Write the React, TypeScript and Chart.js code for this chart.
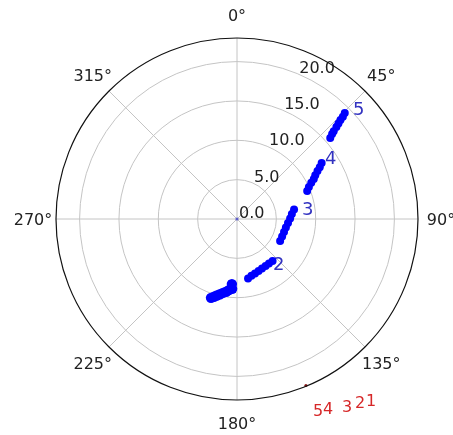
import React, { useEffect, useRef } from 'react';
import { Chart, registerables } from 'chart.js';

Chart.register(...registerables);

// angular resolution of the radar categories: 4 per degree (0.25°)
const STEPS_PER_DEG = 4;
const ANGLE_STEPS = 360 * STEPS_PER_DEG;

// axes
const angleTickDegrees = [0, 45, 90, 135, 180, 225, 270, 315];
const radialTickValues = [0, 5, 10, 15, 20];
const radialTickLabels = ['0.0', '5.0', '10.0', '15.0', '20.0'];
const radialMax = 23;
const radialLabelAngle = 22.5;

// blob near label "1" (theta in degrees, clockwise from north)
const blobTheta = [198.25, 196.5, 194.75, 192.75, 190.75, 188.5, 186.5, 184, 184.5];
const blobR = [10.55, 10.3, 10.05, 9.8, 9.55, 9.35, 9.1, 8.9, 8.3];

// spiral segments near labels 2..5
const spiralTheta = [
  169.5, 165.75, 161.75, 157.5, 153.25, 148.75, 144.25, 139.75,
  117, 111.25, 105.5, 99.75, 94.5, 89.5, 84.75, 80.5,
  68.25, 66, 64, 62.5, 60.75, 59.25, 58, 56.5,
  49, 48.25, 47.75, 47.25, 46.75, 46.25, 46, 45.5,
];
const spiralR = [
  7.7, 7.45, 7.3, 7.15, 7.05, 7.0, 6.95, 7.0,
  6.15, 6.15, 6.2, 6.3, 6.5, 6.75, 7.0, 7.35,
  9.6, 10.0, 10.5, 11.0, 11.4, 11.9, 12.4, 12.9,
  15.7, 16.2, 16.6, 17.2, 17.7, 18.2, 18.7, 19.2,
];

// tiny marks
const originTheta = [0];
const originR = [0];
const redMarkTheta = [157.5];
const redMarkR = [22.9];

// blue annotations (left / baseline anchor)
const noteText = ['1', '2', '3', '4', '5'];
const noteTheta = [188.45, 144.8, 86.5, 58.0, 48.1];
const noteR = [9.51, 7.93, 8.27, 13.19, 19.8];

// red annotations outside the axes
const redText = ['5', '4', '3', '2', '1'];
const redTheta = [158.9, 156.2, 151.45, 148.0, 145.4];
const redR = [26.83, 27.08, 27.92, 28.31, 28.87];

function toSeries(theta: number[], r: number[]) {
  const arr: (number | null)[] = new Array(ANGLE_STEPS).fill(null);
  theta.forEach((t, i) => {
    arr[Math.round(t * STEPS_PER_DEG) % ANGLE_STEPS] = r[i];
  });
  return arr;
}

const FONT = '"DejaVu Sans", sans-serif';

const overlay = {
  id: 'overlay',
  beforeDatasetsDraw(chart: any) {
    const s = chart.scales.r;
    const ctx = chart.ctx;
    ctx.save();
    ctx.fillStyle = '#222';
    ctx.font = `16px ${FONT}`;
    ctx.textAlign = 'left';
    ctx.textBaseline = 'alphabetic';
    radialTickValues.forEach((v, i) => {
      const p = s.getPointPositionForValue(radialLabelAngle * STEPS_PER_DEG, v);
      ctx.fillText(radialTickLabels[i], p.x + 2, p.y - 1);
    });
    ctx.textAlign = 'center';
    angleTickDegrees.forEach((d) => {
      const p = s.getPointPosition(d * STEPS_PER_DEG, s.drawingArea + 23);
      ctx.fillText(`${d}°`, p.x, p.y + 6);
    });
    ctx.textAlign = 'left';
    ctx.font = `18px ${FONT}`;
    ctx.fillStyle = '#3232c0';
    noteText.forEach((t, i) => {
      const p = s.getPointPositionForValue(noteTheta[i] * STEPS_PER_DEG, noteR[i]);
      ctx.fillText(t, p.x, p.y);
    });
    ctx.restore();
  },
  afterDatasetsDraw(chart: any) {
    const s = chart.scales.r;
    const ctx = chart.ctx;
    ctx.save();
    ctx.beginPath();
    ctx.strokeStyle = '#111';
    ctx.lineWidth = 1.2;
    ctx.arc(s.xCenter, s.yCenter, s.getDistanceFromCenterForValue(radialMax), 0, Math.PI * 2);
    ctx.stroke();
    ctx.font = `16px ${FONT}`;
    ctx.fillStyle = '#d62728';
    ctx.textAlign = 'left';
    ctx.textBaseline = 'alphabetic';
    redText.forEach((t, i) => {
      const p = s.getPointPositionForValue(redTheta[i] * STEPS_PER_DEG, redR[i]);
      ctx.fillText(t, p.x, p.y);
    });
    ctx.restore();
  },
};

export default function App() {
  const ref = useRef<HTMLCanvasElement | null>(null);
  useEffect(() => {
    if (!ref.current) return;
    const labels = Array.from({ length: ANGLE_STEPS }, (_, i) => `${i / STEPS_PER_DEG}`);
    const common = {
      showLine: false,
      borderWidth: 0,
      fill: false,
      spanGaps: false,
      pointBorderWidth: 0,
    };
    const chart = new Chart(ref.current, {
      type: 'radar',
      data: {
        labels,
        datasets: [
          { ...common, data: toSeries(blobTheta, blobR), pointRadius: 5.2, pointBackgroundColor: '#0000ff', borderColor: '#0000ff' },
          { ...common, data: toSeries(spiralTheta, spiralR), pointRadius: 4, pointBackgroundColor: '#0000ff', borderColor: '#0000ff' },
          { ...common, data: toSeries(originTheta, originR), pointRadius: 1.6, pointBackgroundColor: 'rgba(70,70,200,0.8)', borderColor: '#0000ff' },
          { ...common, data: toSeries(redMarkTheta, redMarkR), pointRadius: 1.6, pointBackgroundColor: '#8b1a1a', borderColor: '#8b1a1a' },
        ],
      },
      options: {
        animation: false,
        responsive: false,
        events: [],
        layout: { padding: { left: 56, right: 35, top: 38, bottom: 35 } },
        plugins: { legend: { display: false }, tooltip: { enabled: false } },
        scales: {
          r: {
            min: 0,
            max: radialMax,
            startAngle: 0,
            ticks: { display: false, stepSize: 5, includeBounds: false },
            grid: { circular: true, color: '#c4c4c4', lineWidth: 1 },
            angleLines: {
              display: true,
              color: (c: any) => (c.index % (45 * STEPS_PER_DEG) === 0 ? '#c4c4c4' : 'rgba(0,0,0,0)'),
              lineWidth: (c: any) => (c.index % (45 * STEPS_PER_DEG) === 0 ? 1 : 0),
            },
            pointLabels: { display: false },
          },
        },
      } as any,
      plugins: [overlay],
    });
    return () => chart.destroy();
  }, []);
  return (
    <div style={{ position: 'fixed', left: 0, top: 0, width: 453, height: 435 }}>
      <canvas ref={ref} width={453} height={435} style={{ display: 'block' }} />
    </div>
  );
}
